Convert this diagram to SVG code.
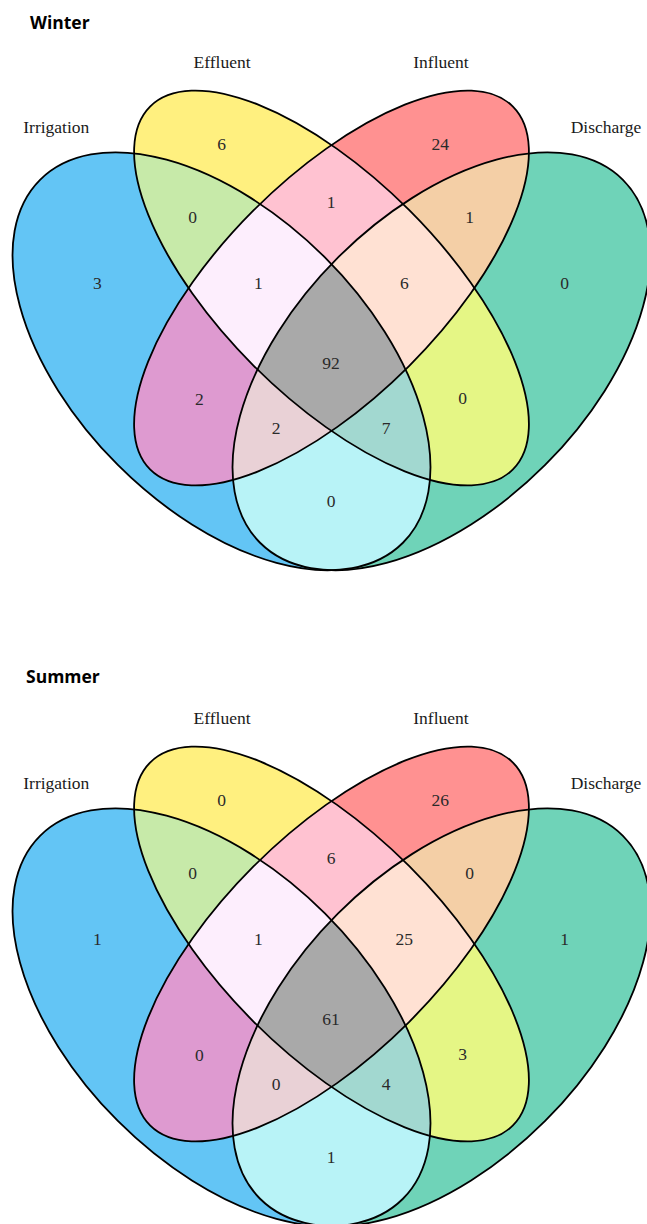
<svg xmlns="http://www.w3.org/2000/svg" xmlns:xlink="http://www.w3.org/1999/xlink" width="647" height="1224" viewBox="0 0 647 1224">
<style>
.o{fill:none;stroke:#000;stroke-width:1.8}
.lbl{font-family:"Liberation Serif","Times New Roman",serif;font-size:17.5px;fill:#1a1a1a;text-anchor:middle}
.num{font-family:"Liberation Serif","Times New Roman",serif;font-size:17.5px;fill:#2a2a2a;text-anchor:middle}
.title{font-family:"Open Sans","Liberation Sans",sans-serif;font-weight:700;font-size:17.5px;fill:#000}
</style>
<defs>
<ellipse id="eB" cx="221.5" cy="361.3" rx="256.6" ry="146.6" transform="rotate(45 221.5 361.3)"/>
<ellipse id="eY" cx="331.5" cy="288" rx="256.6" ry="110" transform="rotate(45 331.5 288)"/>
<ellipse id="eR" cx="331.5" cy="288" rx="256.6" ry="110" transform="rotate(-45 331.5 288)"/>
<ellipse id="eG" cx="441.5" cy="361.3" rx="256.6" ry="146.6" transform="rotate(-45 441.5 361.3)"/>
<clipPath id="cB"><use href="#eB"/></clipPath>
<clipPath id="cY"><use href="#eY"/></clipPath>
<clipPath id="cR"><use href="#eR"/></clipPath>
<clipPath id="cG"><use href="#eG"/></clipPath>
<g id="venn">
<g id="singles">
<use href="#eB" fill="#63C5F5"/>
<use href="#eY" fill="#FFF07F"/>
<use href="#eR" fill="#FF9191"/>
<use href="#eG" fill="#6FD3B8"/>
</g>
<g id="pairs">
<g clip-path="url(#cB)"><use href="#eY" fill="#C7EAA9"/></g>
<g clip-path="url(#cB)"><use href="#eR" fill="#DE9AD0"/></g>
<g clip-path="url(#cB)"><use href="#eG" fill="#B8F3F7"/></g>
<g clip-path="url(#cY)"><use href="#eR" fill="#FFC2D1"/></g>
<g clip-path="url(#cY)"><use href="#eG" fill="#E5F685"/></g>
<g clip-path="url(#cR)"><use href="#eG" fill="#F4CFA6"/></g>
</g>
<g id="triples">
<g clip-path="url(#cB)"><g clip-path="url(#cY)"><use href="#eR" fill="#FDEEFD"/></g></g>
<g clip-path="url(#cB)"><g clip-path="url(#cY)"><use href="#eG" fill="#A2D8D0"/></g></g>
<g clip-path="url(#cB)"><g clip-path="url(#cR)"><use href="#eG" fill="#E9D1D6"/></g></g>
<g clip-path="url(#cY)"><g clip-path="url(#cR)"><use href="#eG" fill="#FFE1D3"/></g></g>
</g>
<g id="quad">
<g clip-path="url(#cB)"><g clip-path="url(#cY)"><g clip-path="url(#cR)"><use href="#eG" fill="#A9A9A9"/></g></g></g>
</g>
<g id="outlines">
<use href="#eB" class="o"/>
<use href="#eY" class="o"/>
<use href="#eR" class="o"/>
<use href="#eG" class="o"/>
</g>
</g>
</defs>

<g id="winter">
<text class="title" x="30" y="29.3">Winter</text>
<use id="winter-sets" href="#venn"/>
<g id="winter-set-labels">
<text class="lbl" x="222" y="68.3">Effluent</text>
<text class="lbl" x="441" y="68.3">Influent</text>
<text class="lbl" x="56.3" y="132.5">Irrigation</text>
<text class="lbl" x="606" y="132.5">Discharge</text>
</g>
<g id="winter-counts">
<text class="num" x="221.7" y="150">6</text>
<text class="num" x="440.3" y="150">24</text>
<text class="num" x="331" y="207.7">1</text>
<text class="num" x="192.7" y="223.3">0</text>
<text class="num" x="469.7" y="223.3">1</text>
<text class="num" x="97.3" y="288.7">3</text>
<text class="num" x="258.3" y="288.7">1</text>
<text class="num" x="404.3" y="288.7">6</text>
<text class="num" x="564.7" y="288.7">0</text>
<text class="num" x="331" y="369.3">92</text>
<text class="num" x="199.3" y="405.3">2</text>
<text class="num" x="462.7" y="404.3">0</text>
<text class="num" x="276" y="434.3">2</text>
<text class="num" x="386" y="434.3">7</text>
<text class="num" x="331" y="506.7">0</text>
</g>
</g>

<g id="summer">
<text class="title" x="26" y="682.7">Summer</text>
<use id="summer-sets" href="#venn" y="656"/>
<g id="summer-set-labels" transform="translate(0,656)">
<text class="lbl" x="222" y="68.3">Effluent</text>
<text class="lbl" x="441" y="68.3">Influent</text>
<text class="lbl" x="56.3" y="132.5">Irrigation</text>
<text class="lbl" x="606" y="132.5">Discharge</text>
</g>
<g id="summer-counts" transform="translate(0,656)">
<text class="num" x="221.7" y="150">0</text>
<text class="num" x="440.3" y="150">26</text>
<text class="num" x="331" y="207.7">6</text>
<text class="num" x="192.7" y="223.3">0</text>
<text class="num" x="469.7" y="223.3">0</text>
<text class="num" x="97.3" y="288.7">1</text>
<text class="num" x="258.3" y="288.7">1</text>
<text class="num" x="404.3" y="288.7">25</text>
<text class="num" x="564.7" y="288.7">1</text>
<text class="num" x="331" y="369.3">61</text>
<text class="num" x="199.3" y="405.3">0</text>
<text class="num" x="462.7" y="404.3">3</text>
<text class="num" x="276" y="434.3">0</text>
<text class="num" x="386" y="434.3">4</text>
<text class="num" x="331" y="506.7">1</text>
</g>
</g>
</svg>
